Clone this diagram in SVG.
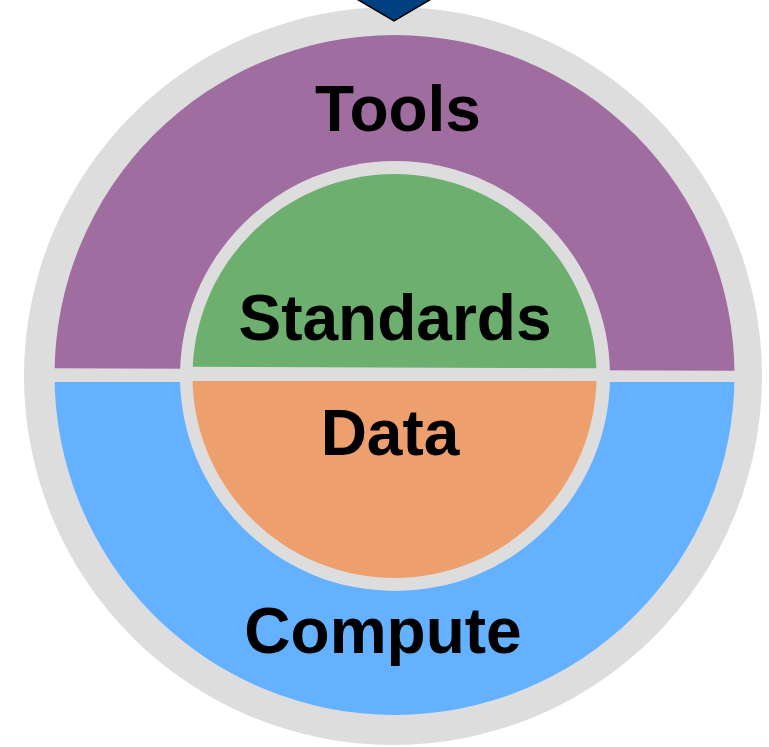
<svg xmlns="http://www.w3.org/2000/svg" width="769" height="747" viewBox="0 0 769 747">
<style>
.lbl{font-family:"Liberation Sans",Arial,sans-serif;font-weight:bold;font-size:64px;fill:#000;text-anchor:middle}
</style>
<defs>
<clipPath id="outerDisk"><circle cx="394.5" cy="375" r="340"/></clipPath>
<clipPath id="innerDisk"><circle cx="394.5" cy="376" r="202"/></clipPath>
</defs>
<rect width="769" height="747" fill="#fff"/>
<g id="ring">
<circle cx="393" cy="376" r="369" fill="#DDDDDD"/>
</g>
<g id="tools">
<polygon points="0,0 769,0 769,371 0,368" fill="#9F6DA0" clip-path="url(#outerDisk)"/>
<text class="lbl" x="398" y="131">Tools</text>
</g>
<g id="compute">
<polygon points="0,382 769,382 769,747 0,747" fill="#64B2FF" clip-path="url(#outerDisk)"/>
<text class="lbl" x="383" y="653">Compute</text>
</g>
<g id="innerRing">
<circle cx="395" cy="376" r="215" fill="#DDDDDD"/>
</g>
<g id="standards">
<polygon points="0,0 769,0 769,369 0,366" fill="#6DAF6F" clip-path="url(#innerDisk)"/>
<text class="lbl" x="395" y="340">Standards</text>
</g>
<g id="data">
<polygon points="0,381 769,381 769,747 0,747" fill="#EDA06E" clip-path="url(#innerDisk)"/>
<text class="lbl" x="390" y="455">Data</text>
</g>
<g id="arrow">
<polygon points="355,-2 394,21 433,-2" fill="#003F80" stroke="#000" stroke-width="1.5"/>
</g>
</svg>
